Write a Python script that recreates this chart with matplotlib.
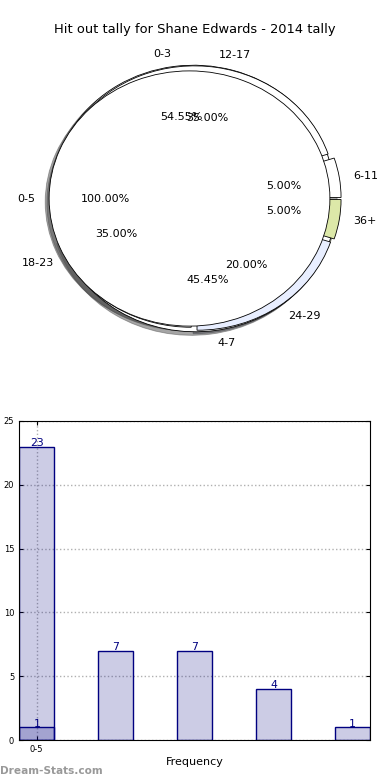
import matplotlib
matplotlib.use("Agg")
import matplotlib.pyplot as plt

title = "Hit out tally for Shane Edwards - 2014 tally"

# Pie layers
pie_a_labels = ["0-5"]
pie_a_values = [23]
pie_b_labels = ["0-3", "4-7"]
pie_b_values = [6, 5]
pie_c_labels = ["6-11", "12-17", "18-23", "24-29", "36+"]
pie_c_values = [1, 7, 7, 4, 1]
pie_c_colors = ["#ffffff", "#ffffff", "#ffffff", "#e8eeff", "#dce8a8"]

# Bars
bar_cats = ["0-5"]
bar_s1 = [23]
bar_s2 = [1, 7, 7, 4, 1]

fig = plt.figure(figsize=(3.9, 7.8), dpi=100)
fig.text(0.5, 1 - 30 / 780, title, ha="center", va="center", fontsize=9.4)

ax1 = fig.add_axes([14 / 390, (780 - 358) / 780, 351 / 390, 319 / 780])
wp = dict(edgecolor="black", linewidth=0.6)
tp = dict(fontsize=8)
ax1.pie(pie_b_values, labels=pie_b_labels, colors=["white", "white"], autopct="%.2f%%",
        explode=[0.045, 0.045], center=(0.035, 0.0), shadow=True, startangle=0,
        wedgeprops=wp, textprops=tp)
ax1.pie(pie_c_values, labels=pie_c_labels, colors=pie_c_colors, autopct="%.2f%%",
        explode=[0.05, 0.04, 0.02, 0.04, 0.05], center=(0.03, 0.0), shadow=True,
        startangle=0, wedgeprops=wp, textprops=tp)
ax1.pie(pie_a_values, labels=pie_a_labels, colors=["white"], autopct="%.2f%%",
        shadow=True, startangle=0, wedgeprops=wp, textprops=tp)
ax1.set_aspect("auto")
ax1.set_xlim(-1.25, 1.25)
ax1.set_ylim(-1.25, 1.25)
ax1.axis("off")

ax2 = fig.add_axes([19 / 390, 40 / 780, 351 / 390, 319 / 780])
fc = (0, 0, 0.5, 0.2)
w = 0.45
x1 = list(range(len(bar_s1)))
x2 = list(range(len(bar_s2)))
ax2.bar(x1, bar_s1, width=w, align="edge", facecolor=fc, edgecolor="#000080", linewidth=1)
ax2.bar(x2, bar_s2, width=w, align="edge", facecolor=fc, edgecolor="#000080", linewidth=1)
for xs, vals in ((x1, bar_s1), (x2, bar_s2)):
    for xi, v in zip(xs, vals):
        ax2.text(xi + w / 2, v - 0.1, str(v), ha="center", va="bottom",
                 fontsize=7.8, color="#000080")
ax2.set_xlim(0, len(bar_s2) - 1 + w)
ax2.set_ylim(0, 25)
ax2.set_yticks([0, 5, 10, 15, 20, 25])
ax2.set_xticks([i + w / 2 for i in range(len(bar_cats))])
ax2.set_xticklabels(bar_cats)
ax2.tick_params(labelsize=6, length=3, direction="in", top=True, right=True)
ax2.grid(True, linestyle=":", color="#b0b0b0", linewidth=1)
ax2.set_axisbelow(True)
ax2.set_xlabel("Frequency", fontsize=8, labelpad=2)

fig.text(0.0, 1 - 771 / 780, "Dream-Stats.com", ha="left", va="center",
         fontsize=7.6, color="#999999", fontweight="bold")

fig.savefig("out.png", dpi=100)
